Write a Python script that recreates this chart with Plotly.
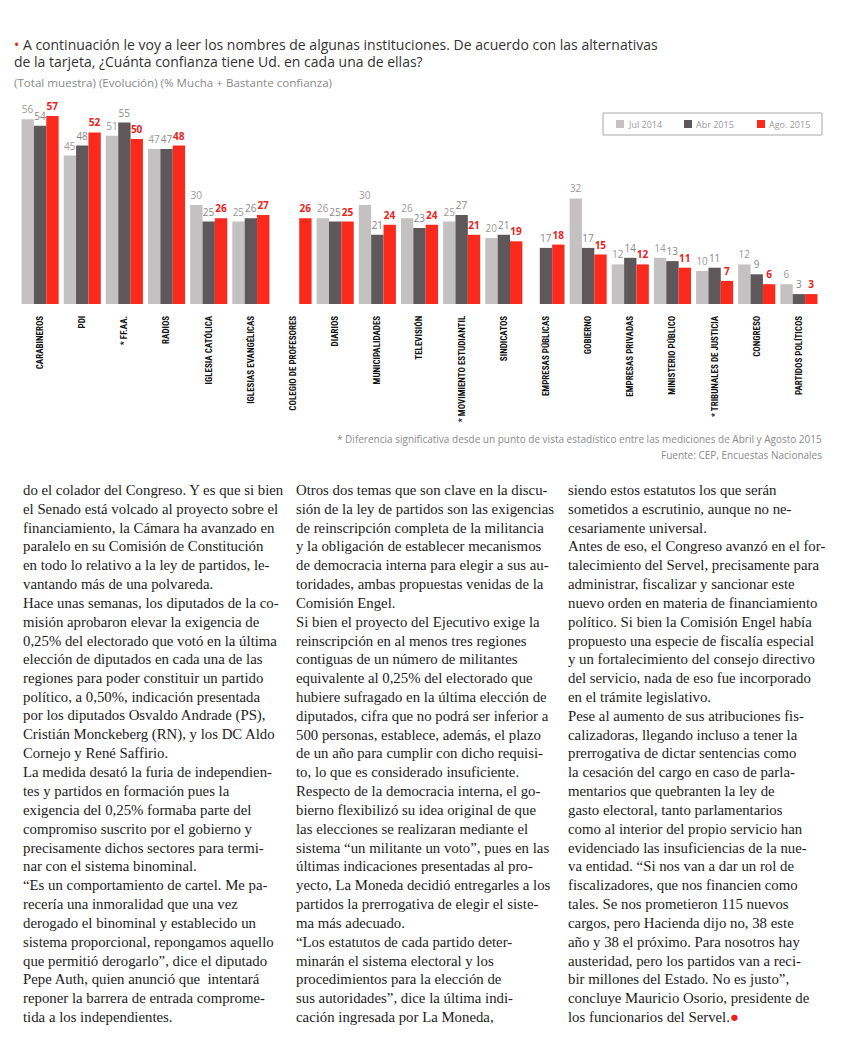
import plotly.graph_objects as go

categories = ["CARABINEROS", "PDI", "* FF.AA.", "RADIOS", "IGLESIA CATÓLICA",
              "IGLESIAS EVANGÉLICAS", "COLEGIO DE PROFESORES", "DIARIOS",
              "MUNICIPALIDADES", "TELEVISIÓN", "* MOVIMIENTO ESTUDIANTIL",
              "SINDICATOS", "EMPRESAS PÚBLICAS", "GOBIERNO", "EMPRESAS PRIVADAS",
              "MINISTERIO PÚBLICO", "* TRIBUNALES DE JUSTICIA", "CONGRESO",
              "PARTIDOS POLÍTICOS"]
jul_2014 = [56, 45, 51, 47, 30, 25, None, 26, 30, 26, 25, 20, None, 32, 12, 14, 10, 12, 6]
abr_2015 = [54, 48, 55, 47, 25, 26, None, 25, 21, 23, 27, 21, 17, 17, 14, 13, 11, 9, 3]
ago_2015 = [57, 52, 50, 48, 26, 27, 26, 25, 24, 24, 21, 19, 18, 15, 12, 11, 7, 6, 3]
series_names = ["Jul 2014", "Abr 2015", "Ago. 2015"]

# page body margin of the html page shifts the figure by 8px
OFF = 8
W, H = 850 - OFF, 1039 - OFF
# plot area in screen pixels: x 19..820, y 106..304
SX0, SX1, SY0, SY1 = 19, 820, 106, 304
L, R = SX0 - OFF, W - (SX1 - OFF)
T, B = SY0 - OFF, H - (SY1 - OFF)
PW, PH = W - L - R, H - T - B


def px2x(s):
    return (s - OFF - L) / PW


def py2y(s):
    return (H - B - (s - OFF)) / PH


colors = ["#c3c1c1", "#5e585a", "#fb2a1c"]
label_colors = ["#9a9898", "#8a8688", "#e8231a"]

fig = go.Figure()
for name, vals, col, lcol in zip(series_names, [jul_2014, abr_2015, ago_2015], colors, label_colors):
    fig.add_trace(go.Bar(
        x=categories, y=vals, name=name,
        marker=dict(color=col, line=dict(width=0)),
        text=["" if v is None else str(v) for v in vals],
        textposition="outside",
        textfont=dict(family="Open Sans", size=10, color=lcol,
                      weight="bold" if name.startswith("Ago") else "normal"),
        cliponaxis=False,
        showlegend=False,
    ))

fig.update_layout(
    width=W, height=H,
    margin=dict(l=L, r=R, t=T, b=B, pad=0, autoexpand=False),
    paper_bgcolor="white", plot_bgcolor="white",
    barmode="group", bargap=0.12, bargroupgap=0,
    showlegend=False,
    xaxis=dict(tickangle=-90, showline=False, showgrid=False, ticks="",
               tickfont=dict(family="Liberation Sans Narrow, Roboto Condensed, Roboto", size=9,
                             color="#111", weight="bold"),
               ticklabelstandoff=9, fixedrange=True, automargin=False),
    yaxis=dict(range=[0, 60], visible=False, fixedrange=True, automargin=False),
    font=dict(family="Open Sans"),
)

ann = []
shapes = []


def text_at(x, y, txt, font, xanchor="left"):
    ann.append(dict(xref="paper", yref="paper", x=px2x(x), y=py2y(y),
                    xanchor=xanchor, yanchor="middle", align=xanchor,
                    showarrow=False, text=txt, font=font, borderpad=0))


title_font = dict(family="Open Sans", size=14, color="#333333")
text_at(13, 45, "<span style='color:#e8231a'>•</span> A continuación le voy a leer los nombres de algunas instituciones. De acuerdo con las alternativas", title_font)
text_at(13, 62, "de la tarjeta, ¿Cuánta confianza tiene Ud. en cada una de ellas?", title_font)
text_at(13, 82, "(Total muestra) (Evolución) (% Mucha + Bastante confianza)",
        dict(family="Open Sans", size=11.6, color="#8a8a8a"))

foot_font = dict(family="Open Sans", size=10, color="#8a8a8a")
text_at(823, 439, "* Diferencia significativa desde un punto de vista estadístico entre las mediciones de Abril y Agosto 2015", foot_font, "right")
text_at(823, 455, "Fuente: CEP, Encuestas Nacionales", foot_font, "right")

# legend box
shapes.append(dict(type="rect", xref="paper", yref="paper",
                   x0=px2x(603), x1=px2x(822), y0=py2y(135), y1=py2y(113),
                   line=dict(color="#a8a8a8", width=1), fillcolor="white", layer="below"))
leg_font = dict(family="Open Sans", size=9, color="#9a9898")
for name, col, sx in zip(series_names, colors, [616, 684, 757]):
    shapes.append(dict(type="rect", xref="paper", yref="paper",
                       x0=px2x(sx), x1=px2x(sx + 8), y0=py2y(128), y1=py2y(120),
                       line=dict(width=0), fillcolor=col))
    text_at(sx + 11, 124, name, leg_font)

col1 = [
    "do el colador del Congreso. Y es que si bien",
    "el Senado está volcado al proyecto sobre el",
    "financiamiento, la Cámara ha avanzado en",
    "paralelo en su Comisión de Constitución",
    "en todo lo relativo a la ley de partidos, le-",
    "vantando más de una polvareda.",
    "Hace unas semanas, los diputados de la co-",
    "misión aprobaron elevar la exigencia de",
    "0,25% del electorado que votó en la última",
    "elección de diputados en cada una de las",
    "regiones para poder constituir un partido",
    "político, a 0,50%, indicación presentada",
    "por los diputados Osvaldo Andrade (PS),",
    "Cristián Monckeberg (RN), y los DC Aldo",
    "Cornejo y René Saffirio.",
    "La medida desató la furia de independien-",
    "tes y partidos en formación pues la",
    "exigencia del 0,25% formaba parte del",
    "compromiso suscrito por el gobierno y",
    "precisamente dichos sectores para termi-",
    "nar con el sistema binominal.",
    "“Es un comportamiento de cartel. Me pa-",
    "recería una inmoralidad que una vez",
    "derogado el binominal y establecido un",
    "sistema proporcional, repongamos aquello",
    "que permitió derogarlo”, dice el diputado",
    "Pepe Auth, quien anunció que  intentará",
    "reponer la barrera de entrada comprome-",
    "tida a los independientes.",
]
col2 = [
    "Otros dos temas que son clave en la discu-",
    "sión de la ley de partidos son las exigencias",
    "de reinscripción completa de la militancia",
    "y la obligación de establecer mecanismos",
    "de democracia interna para elegir a sus au-",
    "toridades, ambas propuestas venidas de la",
    "Comisión Engel.",
    "Si bien el proyecto del Ejecutivo exige la",
    "reinscripción en al menos tres regiones",
    "contiguas de un número de militantes",
    "equivalente al 0,25% del electorado que",
    "hubiere sufragado en la última elección de",
    "diputados, cifra que no podrá ser inferior a",
    "500 personas, establece, además, el plazo",
    "de un año para cumplir con dicho requisi-",
    "to, lo que es considerado insuficiente.",
    "Respecto de la democracia interna, el go-",
    "bierno flexibilizó su idea original de que",
    "las elecciones se realizaran mediante el",
    "sistema “un militante un voto”, pues en las",
    "últimas indicaciones presentadas al pro-",
    "yecto, La Moneda decidió entregarles a los",
    "partidos la prerrogativa de elegir el siste-",
    "ma más adecuado.",
    "“Los estatutos de cada partido deter-",
    "minarán el sistema electoral y los",
    "procedimientos para la elección de",
    "sus autoridades”, dice la última indi-",
    "cación ingresada por La Moneda,",
]
col3 = [
    "siendo estos estatutos los que serán",
    "sometidos a escrutinio, aunque no ne-",
    "cesariamente universal.",
    "Antes de eso, el Congreso avanzó en el for-",
    "talecimiento del Servel, precisamente para",
    "administrar, fiscalizar y sancionar este",
    "nuevo orden en materia de financiamiento",
    "político. Si bien la Comisión Engel había",
    "propuesto una especie de fiscalía especial",
    "y un fortalecimiento del consejo directivo",
    "del servicio, nada de eso fue incorporado",
    "en el trámite legislativo.",
    "Pese al aumento de sus atribuciones fis-",
    "calizadoras, llegando incluso a tener la",
    "prerrogativa de dictar sentencias como",
    "la cesación del cargo en caso de parla-",
    "mentarios que quebranten la ley de",
    "gasto electoral, tanto parlamentarios",
    "como al interior del propio servicio han",
    "evidenciado las insuficiencias de la nue-",
    "va entidad. “Si nos van a dar un rol de",
    "fiscalizadores, que nos financien como",
    "tales. Se nos prometieron 115 nuevos",
    "cargos, pero Hacienda dijo no, 38 este",
    "año y 38 el próximo. Para nosotros hay",
    "austeridad, pero los partidos van a reci-",
    "bir millones del Estado. No es justo”,",
    "concluye Mauricio Osorio, presidente de",
    "los funcionarios del Servel.<span style='color:#e8231a'>●</span>",
]

body_font = dict(family="Liberation Serif, Times New Roman, serif", size=14.8, color="#1c1c1c")
LINE0, STEP = 490, 18.82
for xpx, lines in [(22, col1), (295, col2), (567, col3)]:
    for i, line in enumerate(lines):
        text_at(xpx, LINE0 + i * STEP, line, body_font)

fig.update_layout(annotations=ann, shapes=shapes)
fig.write_html("out.html")
